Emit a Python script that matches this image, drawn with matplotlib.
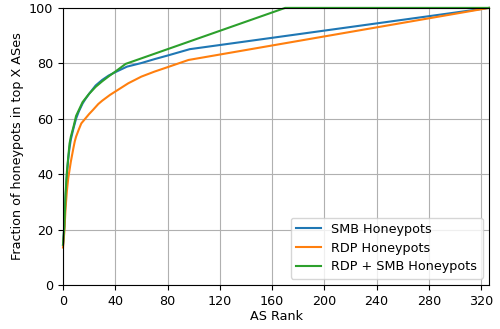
import matplotlib
matplotlib.use("Agg")
import matplotlib.pyplot as plt

smb_rank = [0, 1, 2, 3, 4, 5, 6, 8, 10, 12, 15, 17, 20, 25, 30, 35, 40, 49, 60, 70, 80, 97, 326]
smb_val = [14.5, 21, 32, 40, 45.5, 49.5, 52.5, 56.5, 60, 62.5, 65.5, 67, 69, 72, 74, 75.6, 76.8, 78.8, 80.1, 81.5, 82.8, 85.1, 100]

rdp_rank = [0, 1, 2, 3, 4, 5, 6, 7, 8, 9, 10, 12, 14, 17, 20, 23, 27, 30, 36, 45, 50, 60, 70, 80, 96, 326]
rdp_val = [13.5, 19, 28, 34, 38.5, 41.5, 44.5, 47, 49.5, 51.8, 53.5, 56, 58.3, 60, 61.7, 63.2, 65.3, 66.5, 68.6, 71.3, 72.8, 75.2, 77, 78.6, 81.2, 100]

both_rank = [0, 1, 2, 3, 4, 5, 6, 8, 10, 12, 15, 20, 25, 30, 35, 40, 48, 170, 326]
both_val = [14.5, 21, 33, 41, 46, 51, 53.5, 57, 61, 63, 66, 69, 71.5, 73.5, 75.3, 77, 79.8, 100, 100]

xticks = [0, 40, 80, 120, 160, 200, 240, 280, 320]
yticks = [0, 20, 40, 60, 80, 100]

fs = 9.2
fig = plt.figure(figsize=(5, 3.29), dpi=100)
ax = fig.add_axes([0.126, 0.134, 0.852, 0.842])
ax.plot(smb_rank, smb_val, color="#1f77b4", lw=1.5, label="SMB Honeypots", clip_on=False)
ax.plot(rdp_rank, rdp_val, color="#ff7f0e", lw=1.5, label="RDP Honeypots", clip_on=False)
ax.plot(both_rank, both_val, color="#2ca02c", lw=1.5, label="RDP + SMB Honeypots", clip_on=False)
ax.set_xlim(0, 326)
ax.set_ylim(0, 100)
ax.set_xticks(xticks)
ax.set_yticks(yticks)
ax.tick_params(labelsize=fs)
ax.grid(True, color="#b0b0b0", lw=0.8)
ax.set_xlabel("AS Rank", fontsize=fs, labelpad=2)
ax.set_ylabel("Fraction of honeypots in top X ASes", fontsize=fs, labelpad=3.5)
ax.legend(loc="lower right", fontsize=fs, labelspacing=0.45)
fig.savefig("out.png", dpi=100)
